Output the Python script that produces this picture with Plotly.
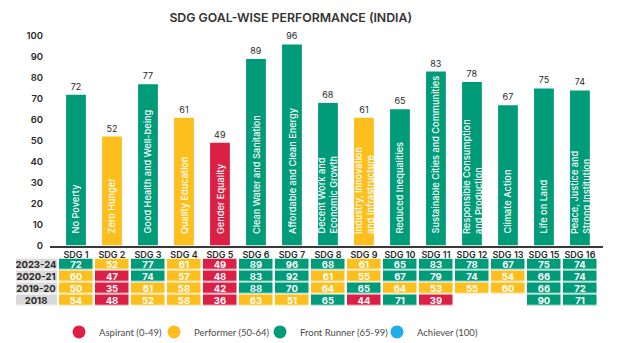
import plotly.graph_objects as go

# SDG index scores for India by goal
goals = ["SDG 1", "SDG 2", "SDG 3", "SDG 4", "SDG 5", "SDG 6", "SDG 7", "SDG 8",
         "SDG 9", "SDG 10", "SDG 11", "SDG 12", "SDG 13", "SDG 15", "SDG 16"]
goal_names = [
    "No Poverty", "Zero Hunger", "Good Health and Well-being", "Quality Education",
    "Gender Equality", "Clean Water and Sanitation", "Affordable and Clean Energy",
    "Decent Work and<br>Economic Growth", "Industry, Innovation<br>and Infrastructure",
    "Reduced Inequalities", "Sustainable Cities and Communities",
    "Responsible Consumption<br>and Production", "Climate Action", "Life on Land",
    "Peace, Justice and<br>Strong Institution",
]
score_2023_24 = [72, 52, 77, 61, 49, 89, 96, 68, 61, 65, 83, 78, 67, 75, 74]
score_2020_21 = [60, 47, 74, 57, 48, 83, 92, 61, 55, 67, 79, 74, 54, 66, 74]
score_2019_20 = [50, 35, 61, 58, 42, 88, 70, 64, 65, 64, 53, 55, 60, 66, 72]
score_2018 = [54, 48, 52, 58, 36, 63, 51, 65, 44, 71, 39, None, None, 90, 71]
years = ["2023-24", "2020-21", "2019-20", "2018"]

categories = ["Aspirant (0-49)", "Performer (50-64)", "Front Runner (65-99)", "Achiever (100)"]

RED, YELLOW, GREEN, BLUE = "#dc1f45", "#fdbf1e", "#009b78", "#1baee8"
cat_colors = [RED, YELLOW, GREEN, BLUE]
FONT = "Inter"
LEGEND_FONT = "Lato"


def band_color(v):
    if v < 50:
        return RED
    if v < 65:
        return YELLOW
    if v < 100:
        return GREEN
    return BLUE


# discrete colour scale on 0-100 for the score table
scale = [
    [0.0, RED], [0.495, RED],
    [0.495, YELLOW], [0.645, YELLOW],
    [0.645, GREEN], [0.995, GREEN],
    [0.995, BLUE], [1.0, BLUE],
]

fig = go.Figure()

fig.add_trace(go.Bar(
    x=goals, y=score_2023_24,
    marker=dict(color=[band_color(v) for v in score_2023_24], line_width=0),
    text=score_2023_24, textposition="outside", cliponaxis=False,
    textfont=dict(family=FONT, size=9, color="#2a2a2a"),
    showlegend=False, hoverinfo="x+y",
))

# score table underneath the bars
table_rows = [score_2023_24, score_2020_21, score_2019_20, score_2018]
fig.add_trace(go.Heatmap(
    x=goals, y=years, z=table_rows,
    xaxis="x", yaxis="y2",
    colorscale=scale, zmin=0, zmax=100, showscale=False,
    xgap=2.5, ygap=1.5,
    texttemplate="%{z}",
    textfont=dict(family=FONT, size=9.5, color="white", weight=700),
    hoverinfo="skip", showlegend=False,
))

# year label column
fig.add_trace(go.Heatmap(
    x=[0], y=years, z=[[0], [0], [0], [0]],
    xaxis="x2", yaxis="y2",
    colorscale=[[0, "#d9d9d9"], [1, "#d9d9d9"]], showscale=False,
    ygap=1.5, text=[[y] for y in years], texttemplate="%{text}",
    textfont=dict(family=FONT, size=9.5, color="#2a2a2a", weight=700),
    hoverinfo="skip", showlegend=False,
))

# one legend per performance band, spread along the bottom
legend_ids = ["legend", "legend2", "legend3", "legend4"]
legend_x = [0.0733, 0.2351, 0.4157, 0.6150]
for name, col, lid in zip(categories, cat_colors, legend_ids):
    fig.add_trace(go.Scatter(
        x=[None], y=[None], mode="markers", name=name, legend=lid,
        marker=dict(color=col, size=13, symbol="circle"),
    ))

# goal names written up the bars
for g, label in zip(goals, goal_names):
    fig.add_annotation(
        x=g, y=0, xref="x", yref="y", text=label, textangle=-90,
        xanchor="center", yanchor="bottom", yshift=10, align="left",
        showarrow=False,
        font=dict(family=FONT, size=9.2, color="white", weight=500),
    )

legend_style = dict(
    orientation="h", xanchor="left", y=-0.096, yanchor="middle",
    font=dict(family=LEGEND_FONT, size=9.5, color="#4a4a4a"),
    bgcolor="rgba(0,0,0,0)",
)

fig.update_layout(
    width=625, height=343,
    margin=dict(l=16, r=22, t=36, b=37, autoexpand=False),
    paper_bgcolor="white", plot_bgcolor="white",
    font=dict(family=FONT, color="#2a2a2a"),
    bargap=0.45,
    title=dict(
        text="SDG GOAL-WISE PERFORMANCE (INDIA)",
        x=0.468, xref="paper", xanchor="center",
        y=1 - 17.5 / 343, yref="container", yanchor="middle",
        font=dict(family=FONT, size=12.3, color="#333333", weight=600),
    ),
    xaxis=dict(
        domain=[0.0579, 1], range=[-0.722, 14.64], type="category",
        showline=True, linecolor="#3a3a3a", linewidth=1.5,
        ticks="", showgrid=False, zeroline=False, anchor="y",
        tickfont=dict(family=FONT, size=9, color="#2a2a2a", weight=600),
    ),
    yaxis=dict(
        domain=[0.224, 1], range=[0, 100], dtick=10,
        showgrid=False, zeroline=False, showline=False, ticks="",
        ticklabelstandoff=6,
        tickfont=dict(family=FONT, size=9.5, color="#2a2a2a", weight=600),
    ),
    xaxis2=dict(
        domain=[0, 0.0698], range=[-0.5, 0.5], anchor="y2",
        visible=False,
    ),
    yaxis2=dict(
        domain=[0, 0.176], type="category", categoryorder="array",
        categoryarray=years, autorange="reversed", anchor="x",
        visible=False,
    ),
)
for lid, lx in zip(legend_ids, legend_x):
    fig.update_layout({lid: dict(legend_style, x=lx)})

fig.write_html("out.html")
